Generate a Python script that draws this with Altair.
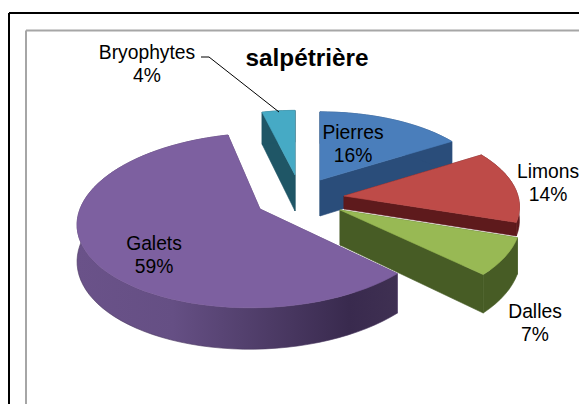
import math
import altair as alt
import pandas as pd

categories = ["Pierres", "Limons", "Dalles", "Galets", "Bryophytes"]
shares = [16, 14, 7, 59, 4]

# layout of the exploded slices (apex x, apex y, rx, ry, extrusion, shear)
geom = {
    "Pierres": (320, 180, 167, 77, 36, 0),
    "Limons": (344, 196, 174, 82, 13, 0),
    "Dalles": (340, 210, 179, 86, 35, 0),
    "Galets": (260, 209, 180, 86, 36, 9),
    "Bryophytes": (295, 175, 149, 73, 36, 0),
}
top_colors = {"Pierres": "#4a7ebb", "Limons": "#be4b48", "Dalles": "#98b954",
              "Galets": "#7d60a0", "Bryophytes": "#46aac5"}
wall_colors = {"Pierres": "#2a4d7a", "Limons": "#5e1a1c", "Dalles": "#475c25",
               "Galets": "#5a4475", "Bryophytes": "#1f5666"}
draw_order = ["Bryophytes", "Pierres", "Limons", "Dalles", "Galets"]
K = 0.13

X = alt.X("x:Q", scale=alt.Scale(domain=[8, 579], nice=False, zero=False), axis=None)
Y = alt.Y("y:Q", scale=alt.Scale(domain=[404, 8], nice=False, zero=False), axis=None)


def project(name, theta):
    ax, ay, rx, ry, d, shear = geom[name]
    u, v = math.sin(theta), math.cos(theta)
    s = 1 / (1 + K * v)
    return ax + (rx * u + shear * v) * s, ay - ry * v * s, d * s


def poly_chart(points, fill):
    pts = points + [points[0]]
    df = pd.DataFrame({"x": [p[0] for p in pts], "y": [p[1] for p in pts], "i": range(len(pts))})
    stroke = fill if isinstance(fill, str) else "#4a3860"
    return alt.Chart(df).mark_line(fill=fill, stroke=stroke, strokeWidth=0.6, interpolate="linear").encode(
        x=X, y=Y, order="i:Q")


spans = {}
acc = 0
total = sum(shares)
for c, v in zip(categories, shares):
    spans[c] = (acc / total * 2 * math.pi, (acc + v) / total * 2 * math.pi)
    acc += v

layers = []

frame_h = [(9, 579, 13, "#000000", 2), (26, 579, 30.5, "#a6a6a6", 2)]
frame_v = [(9, 13, 404, "#000000", 2), (26, 30.5, 404, "#a6a6a6", 2)]
for x0, x1, y0, col, w in frame_h:
    layers.append(alt.Chart(pd.DataFrame({"x": [x0], "x2": [x1], "y": [y0]})).mark_rule(color=col, strokeWidth=w).encode(x=X, x2="x2:Q", y=Y))
for x0, y0, y1, col, w in frame_v:
    layers.append(alt.Chart(pd.DataFrame({"x": [x0], "y": [y0], "y2": [y1]})).mark_rule(color=col, strokeWidth=w).encode(x=X, y=Y, y2="y2:Q"))

for name in draw_order:
    a0, a1 = spans[name]
    ax, ay, rx, ry, d, shear = geom[name]
    n = max(8, int((a1 - a0) / math.radians(3)))
    rim = [project(name, a0 + (a1 - a0) * i / n) for i in range(n + 1)]
    wall = wall_colors[name]
    for p in (rim[0], rim[-1]):
        quad = [(ax, ay), (p[0], p[1]), (p[0], p[1] + p[2]), (ax, ay + d)]
        layers.append(poly_chart(quad, wall))
    rim_poly = [(p[0], p[1]) for p in rim] + [(p[0], p[1] + p[2]) for p in reversed(rim)]
    if name == "Galets":
        rim_fill = alt.LinearGradient(
            gradient="linear", x1=0, x2=1, y1=0, y2=0,
            stops=[alt.GradientStop(offset=0, color="#6a5289"),
                   alt.GradientStop(offset=0.3, color="#654f84"),
                   alt.GradientStop(offset=0.6, color="#4d3b66"),
                   alt.GradientStop(offset=0.85, color="#392a4e"),
                   alt.GradientStop(offset=1, color="#3f3052")])
    else:
        rim_fill = wall
    layers.append(poly_chart(rim_poly, rim_fill))
    layers.append(poly_chart([(ax, ay)] + [(p[0], p[1]) for p in rim], top_colors[name]))

leader_x = [201, 209, 279]
leader_y = [57, 57, 112]
layers.append(alt.Chart(pd.DataFrame({"x": leader_x, "y": leader_y, "i": [0, 1, 2]})).mark_line(color="#000000", strokeWidth=1).encode(x=X, y=Y, order="i:Q"))

label_x = {"Pierres": 353, "Limons": 548, "Dalles": 535, "Galets": 154, "Bryophytes": 147}
label_y = {"Pierres": 139, "Limons": 178, "Dalles": 318, "Galets": 250, "Bryophytes": 59}
rows = []
for c, v in zip(categories, shares):
    rows.append({"x": label_x[c], "y": label_y[c], "t": c})
    rows.append({"x": label_x[c], "y": label_y[c] + 23, "t": f"{v}%"})
layers.append(alt.Chart(pd.DataFrame(rows)).mark_text(font="Liberation Sans", fontSize=19.3, color="#000000", align="center", baseline="alphabetic").encode(x=X, y=Y, text="t:N"))
layers.append(alt.Chart(pd.DataFrame({"x": [307], "y": [66], "t": ["salpétrière"]})).mark_text(font="Liberation Sans", fontSize=24.3, fontWeight="bold", color="#000000", align="center", baseline="alphabetic").encode(x=X, y=Y, text="t:N"))

chart = alt.layer(*layers).properties(
    width=571, height=396, padding=0, autosize=alt.AutoSizeParams(type="none"), background="#ffffff"
).configure_view(stroke=None)

chart.save("out.html", embed_options={"renderer": "svg", "actions": False})
